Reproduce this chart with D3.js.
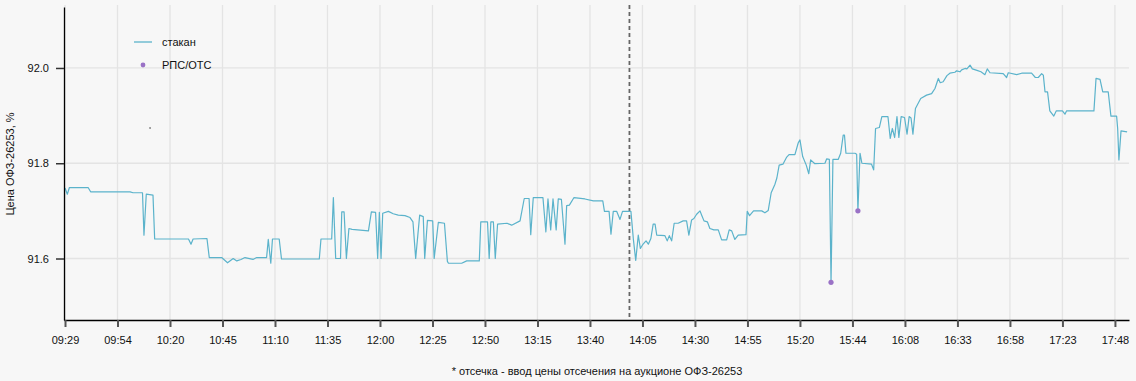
<!DOCTYPE html>
<html><head><meta charset="utf-8">
<script src="https://cdn.jsdelivr.net/npm/d3@7"></script>
<style>
body{margin:0;background:#f7f7f7}
svg{display:block}
text{font-family:"Liberation Sans",Arial,sans-serif}
</style>
</head><body>
<svg id="c" width="1136" height="381"></svg>
<script>
// ---- data (time = minutes after 09:29 on the chart's axis, price = % of par) ----
const tickLabels = ["09:29","09:54","10:20","10:45","11:10","11:35","12:00","12:25","12:50","13:15","13:40",
  "14:05","14:30","14:55","15:20","15:44","16:08","16:33","16:58","17:23","17:48"];
const tickMinutes = [0,25,50,75,100,125,150,175,200,225,250,275,300,325,350,375,400,425,450,475,500];
const yTicks = [91.6, 91.8, 92.0];

const times = [0.0,1.1,2.1,11.0,12.2,31.0,32.4,36.9,37.6,38.7,41.9,42.7,58.8,60.0,61.0,67.6,68.7,74.6,77.4,80.1,
81.8,83.8,85.7,89.5,91.3,96.0,96.8,98.0,98.8,102.0,103.1,121.1,121.9,127.0,127.8,128.9,131.2,131.8,132.9,134.0,
135.2,136.7,144.5,145.9,147.9,148.9,149.7,150.5,151.3,154.0,156.3,158.7,161.9,164.3,165.7,167.0,168.9,170.6,171.3,172.6,
175.1,175.8,177.8,180.7,182.1,182.6,188.9,191.3,197.3,198.0,201.2,202.0,202.8,204.0,204.9,206.0,210.5,212.7,216.7,218.7,
221.0,221.8,223.0,227.6,229.0,230.0,231.3,232.4,233.9,234.9,236.4,238.1,238.9,240.2,242.4,247.6,251.6,256.1,256.9,259.1,
260.0,261.1,262.7,264.3,265.5,269.5,270.7,271.8,273.0,274.0,275.1,276.7,277.8,279.0,280.1,281.0,281.8,285.7,286.8,287.8,
288.9,290.1,292.0,294.4,296.0,297.1,298.4,299.5,300.8,302.4,303.2,304.3,305.9,307.1,309.0,311.1,312.7,315.1,316.3,317.5,
319.0,320.6,324.3,324.9,326.0,327.9,331.8,333.3,334.9,336.3,338.1,339.0,340.1,341.9,343.7,344.8,347.6,349.2,350.0,351.3,
353.0,354.2,355.1,357.1,361.9,362.7,364.0,364.8,365.7,368.2,369.4,370.6,371.2,371.9,376.2,377.0,377.6,378.6,379.5,384.1,
385.1,386.0,387.8,389.0,391.9,393.0,394.0,395.1,396.2,397.1,398.2,399.8,401.0,402.0,402.9,403.8,405.0,407.5,410.3,412.7,
414.3,415.9,416.8,418.2,420.0,421.4,423.8,424.6,426.2,427.0,428.6,429.5,431.0,432.1,434.3,436.2,438.1,439.2,440.5,446.8,
448.4,449.2,453.2,455.6,460.3,462.1,463.5,465.1,465.9,466.7,467.9,469.0,470.9,472.1,475.0,476.2,477.0,490.0,491.0,492.9,
494.2,496.8,498.1,500.8,501.3,501.9,502.9,504.3,505.8];
const prices = [91.748,91.735,91.749,91.749,91.740,91.740,91.738,91.738,91.649,91.735,91.733,91.641,91.641,91.630,91.641,91.642,91.602,91.602,91.591,91.600,
91.595,91.598,91.602,91.598,91.602,91.602,91.640,91.590,91.641,91.641,91.599,91.599,91.641,91.641,91.728,91.600,91.600,91.698,91.698,91.600,
91.663,91.661,91.658,91.698,91.697,91.600,91.697,91.600,91.695,91.699,91.694,91.691,91.690,91.686,91.677,91.600,91.691,91.688,91.600,91.680,
91.679,91.600,91.676,91.674,91.594,91.590,91.590,91.595,91.595,91.677,91.677,91.600,91.677,91.677,91.600,91.672,91.674,91.670,91.679,91.726,
91.726,91.650,91.728,91.728,91.656,91.725,91.660,91.725,91.660,91.725,91.724,91.630,91.711,91.712,91.728,91.725,91.721,91.721,91.699,91.699,
91.651,91.699,91.699,91.682,91.699,91.699,91.639,91.596,91.649,91.621,91.629,91.637,91.630,91.642,91.672,91.672,91.649,91.648,91.637,91.648,
91.637,91.674,91.674,91.679,91.679,91.649,91.681,91.684,91.693,91.700,91.691,91.679,91.677,91.663,91.660,91.660,91.639,91.639,91.660,91.658,
91.640,91.649,91.650,91.699,91.690,91.700,91.700,91.696,91.701,91.738,91.756,91.769,91.796,91.798,91.813,91.818,91.818,91.843,91.849,91.814,
91.796,91.778,91.807,91.799,91.800,91.809,91.808,91.550,91.808,91.808,91.821,91.859,91.859,91.821,91.821,91.819,91.700,91.821,91.800,91.798,
91.786,91.873,91.875,91.898,91.898,91.852,91.873,91.854,91.898,91.854,91.898,91.896,91.861,91.898,91.895,91.861,91.915,91.936,91.943,91.946,
91.957,91.978,91.969,91.971,91.984,91.989,91.991,91.994,91.992,91.996,91.999,91.998,92.006,91.998,91.995,91.992,91.986,91.998,91.990,91.988,
91.980,91.990,91.986,91.989,91.989,91.980,91.980,91.988,91.985,91.950,91.950,91.910,91.899,91.910,91.910,91.903,91.910,91.910,91.978,91.976,
91.950,91.950,91.899,91.899,91.873,91.807,91.868,91.867,91.866];

const rpsTimes = [364.8, 377.6];
const rpsPrices = [91.55, 91.70];
const strayTimes = [40.5];
const strayPrices = [91.874];
const cutoffTime = 268.8;
const legendLabels = ["стакан", "РПС/ОТС"];
const yTitle = "Цена ОФЗ-26253, %";
const note = "* отсечка - ввод цены отсечения на аукционе ОФЗ-26253";

// ---- drawing ----
const svg = d3.select("#c");
const lineColor = "#5bb3cb", dotColor = "#9a72c6";
const x = d3.scaleLinear().domain([-0.48, 506.7]).range([64, 1129]);
const y = d3.scaleLinear().domain([91.4709, 92.128]).range([320, 7]);

// grid
svg.append("g").selectAll("line").data(tickMinutes).join("line")
  .attr("x1", d => x(d)).attr("x2", d => x(d)).attr("y1", 5).attr("y2", 320)
  .attr("stroke", "#e4e4e4").attr("stroke-width", 1.3);
svg.append("g").selectAll("line").data(yTicks).join("line")
  .attr("x1", 64).attr("x2", 1129).attr("y1", d => y(d)).attr("y2", d => y(d))
  .attr("stroke", "#e4e4e4").attr("stroke-width", 1.3);

// cutoff line
svg.append("line").attr("x1", x(cutoffTime)).attr("x2", x(cutoffTime))
  .attr("y1", 5).attr("y2", 320).attr("stroke", "#666").attr("stroke-width", 1.8)
  .attr("stroke-dasharray", "4,3");

// series
const pts = times.map((t, i) => [t, prices[i]]);
svg.append("path").datum(pts)
  .attr("fill", "none").attr("stroke", lineColor).attr("stroke-width", 1.2)
  .attr("stroke-linejoin", "round")
  .attr("d", d3.line().x(d => x(d[0])).y(d => y(d[1])));

svg.append("g").selectAll("circle").data(rpsTimes).join("circle")
  .attr("cx", d => x(d)).attr("cy", (d, i) => y(rpsPrices[i])).attr("r", 2.6)
  .attr("fill", dotColor);
svg.append("g").selectAll("circle").data(strayTimes).join("circle")
  .attr("cx", d => x(d)).attr("cy", (d, i) => y(strayPrices[i])).attr("r", 0.7)
  .attr("fill", "#222");

// axes
const xAxis = svg.append("g").attr("transform", "translate(0,320)")
  .call(d3.axisBottom(x).tickValues(tickMinutes).tickFormat((d, i) => tickLabels[i])
    .tickSize(7).tickSizeOuter(0).tickPadding(9));
xAxis.select(".domain").attr("stroke", "#000").attr("stroke-width", 1.3);
xAxis.selectAll(".tick line").attr("stroke", "#555").attr("stroke-width", 2);
xAxis.selectAll("text").attr("font-size", 11).attr("fill", "#111")
  .attr("font-family", "'Liberation Sans',Arial,sans-serif");

const yAxis = svg.append("g").attr("transform", "translate(64,0)")
  .call(d3.axisLeft(y).tickValues(yTicks).tickFormat(d3.format(".1f"))
    .tickSize(8).tickSizeOuter(0).tickPadding(7));
yAxis.select(".domain").attr("stroke", "#000").attr("stroke-width", 1.3);
yAxis.selectAll(".tick line").attr("stroke", "#333").attr("stroke-width", 1.5);
yAxis.selectAll("text").attr("font-size", 11).attr("fill", "#111")
  .attr("font-family", "'Liberation Sans',Arial,sans-serif");

// y title
svg.append("text").attr("transform", "translate(14,164) rotate(-90)")
  .attr("text-anchor", "middle").attr("font-size", 11).attr("fill", "#111").text(yTitle);

// legend
const lg = svg.append("g");
lg.append("line").attr("x1", 134).attr("x2", 152).attr("y1", 42).attr("y2", 42)
  .attr("stroke", lineColor).attr("stroke-width", 1.3);
lg.append("circle").attr("cx", 143).attr("cy", 65).attr("r", 2.4).attr("fill", dotColor);
lg.selectAll("text").data(legendLabels).join("text")
  .attr("x", 162).attr("y", (d, i) => 46 + i * 23).attr("font-size", 11).attr("fill", "#111").text(d => d);

// note
svg.append("text").attr("x", 597).attr("y", 375).attr("text-anchor", "middle")
  .attr("font-size", 11).attr("fill", "#111").text(note);
</script>
</body></html>
